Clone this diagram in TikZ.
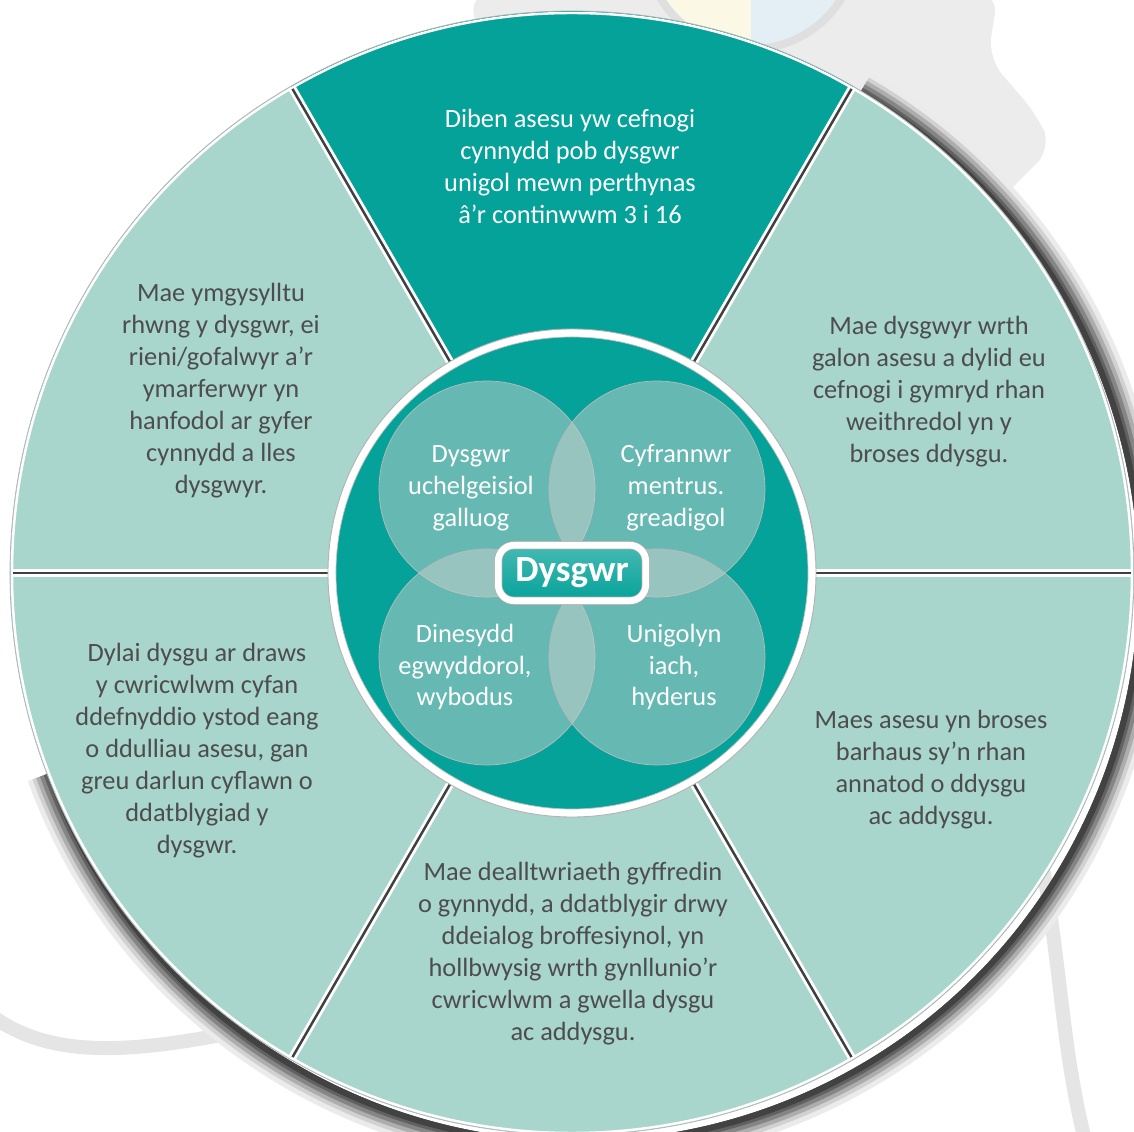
\documentclass[tikz,border=0pt]{standalone}
\usepackage{fontspec}
\setmainfont{Carlito}
\usetikzlibrary{calc}
\definecolor{tealdark}{RGB}{5,162,154}
\definecolor{teallight}{RGB}{168,213,204}
\definecolor{textgrey}{RGB}{77,77,77}
\definecolor{backgrey}{RGB}{236,236,236}
\definecolor{swooshgrey}{RGB}{229,229,229}
\definecolor{palefill}{RGB}{200,208,204}
\definecolor{paleyellow}{RGB}{251,248,230}
\definecolor{paleblue}{RGB}{228,239,245}
\newcommand{\bodysize}{\fontsize{15}{18.2}\selectfont}

\begin{document}
\begin{tikzpicture}[%
    x=0.02cm,
    y=0.02cm,
    sector/.style={
      align=center,
      font=\bodysize,
      text=textgrey
    },
    topsector/.style={sector, text=white},
    venn/.style={
      fill=palefill,
      fill opacity=0.5,
      draw=gray!55,
      line width=0.4pt
    },
    venntext/.style={align=center, font=\bodysize, text=white},
    hub/.style={
      rounded corners=9pt,
      draw=gray!60,
      double=white,
      double distance=3.8pt,
      top color={rgb,255:red,70;green,186;blue,179},
      bottom color=tealdark,
      minimum width=2.95cm,
      minimum height=1.11cm,
      text=white,
      font=\bfseries\fontsize{21}{24}\selectfont
    },
    swoosh/.style={draw=swooshgrey, line width=8pt}
    ]
    \useasboundingbox (-572,-559) rectangle (562,573);

    % background
    \fill[backgrey, rounded corners=12pt] (-102,580) -- (426,580) -- (416,515)
      -- (465,458) -- (480,425) -- (413,358) -- (0,0) -- cycle;
    \fill[gray!25] (179,630) circle (110);
    \begin{scope}
      \clip (179,630) circle (102);
      \fill[paleyellow] (77,520) rectangle (179,740);
      \fill[paleblue] (179,520) rectangle (281,740);
    \end{scope}
    \draw[swoosh] (-590,-435) .. controls (-520,-495) and (-420,-480) .. (-250,-440);
    \draw[swoosh] (470,-290) .. controls (490,-400) and (490,-480) .. (515,-575);

    % wheel
    \foreach \rad/\w/\k in {573/14.8/8, 570.5/11.9/18, 568.5/9.7/32, 566.5/7.4/48,
        564.5/5.1/62, 563/3.4/74}
      \draw[black!\k, line width=\w pt] ($(-50:10)+(60:\rad)$)
        arc[start angle=60, end angle=-160, radius=\rad];
    \foreach \a in {0,120,180,240,300}
      \fill[teallight] (0,0) -- (\a:562) arc[start angle=\a, end angle=\a+60, radius=562] -- cycle;
    \fill[tealdark] (0,0) -- (60:562) arc[start angle=60, end angle=120, radius=562] -- cycle;
    \draw[white, line width=1.4pt] (0,0) circle (560);
    \draw[gray!60, line width=0.4pt] (0,0) circle (562);
    \foreach \a in {0,60,...,300} {
      \draw[white, line width=4.6pt] (\a:243) -- (\a:561);
      \draw[black!75, line width=1.4pt] (\a:243) -- (\a:559);
    }
    \draw[gray!60, fill=white, line width=0.5pt] (0,0) circle (244);
    \draw[gray!50, fill=tealdark, line width=0.4pt] (0,0) circle (236);

    \draw[venn] (-85,84) circle (108);
    \draw[venn] (85,84) circle (108);
    \draw[venn] (-85,-84) circle (108);
    \draw[venn] (85,-84) circle (108);

    \node[topsector] (diben) at (-2,407) {Diben asesu yw cefnogi\\cynnydd pob dysgwr\\unigol mewn perthynas\\â’r continwwm 3 i 16};
    \node[sector] (ymgysylltu) at (-351,182) {Mae ymgysylltu\\rhwng y dysgwr, ei\\rieni/gofalwyr a’r\\ymarferwyr yn\\hanfodol ar gyfer\\cynnydd a lles\\dysgwyr.};
    \node[sector] (galon) at (357,181) {Mae dysgwyr wrth\\galon asesu a dylid eu\\cefnogi i gymryd rhan\\weithredol yn y\\broses ddysgu.};
    \node[sector] (cwricwlwm) at (-375,-178) {Dylai dysgu ar draws\\y cwricwlwm cyfan\\ddefnyddio ystod eang\\o ddulliau asesu, gan\\greu darlun cyflawn o\\ddatblygiad y\\dysgwr.};
    \node[sector] (broses) at (359,-197) {Maes asesu yn broses\\barhaus sy’n rhan\\annatod o ddysgu\\ac addysgu.};
    \node[sector] (dealltwriaeth) at (1,-381) {Mae dealltwriaeth gyffredin\\o gynnydd, a ddatblygir drwy\\ddeialog broffesiynol, yn\\hollbwysig wrth gynllunio’r\\cwricwlwm a gwella dysgu\\ac addysgu.};

    \node[venntext] (uchelgeisiol) at (-101,85) {Dysgwr\\uchelgeisiol\\galluog};
    \node[venntext] (mentrus) at (104,85) {Cyfrannwr\\mentrus.\\greadigol};
    \node[venntext] (egwyddorol) at (-107,-94) {Dinesydd\\egwyddorol,\\wybodus};
    \node[venntext] (iach) at (102,-94) {Unigolyn\\iach,\\hyderus};

    \node[hub] (dysgwr) at (0,0) {Dysgwr};
  \end{tikzpicture}
\end{document}
